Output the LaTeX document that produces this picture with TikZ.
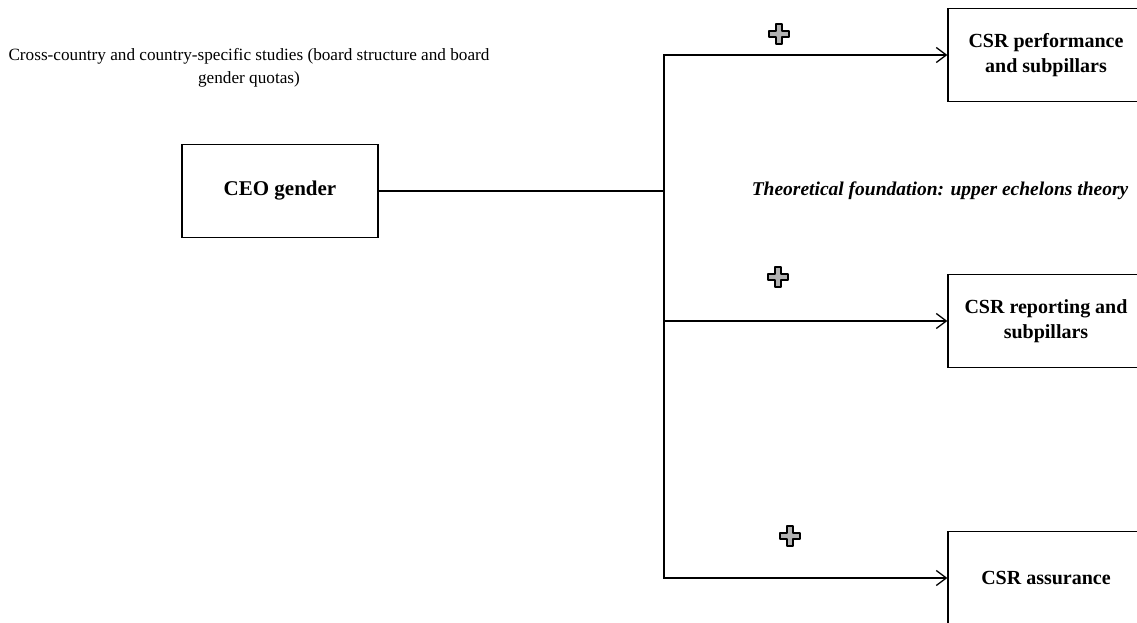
\documentclass[tikz,border=0pt]{standalone}
\usepackage{fontspec}
\setmainfont{Liberation Serif}
\usetikzlibrary{arrows.meta}

\tikzset{
  outcome/.style={draw, line width=1.3pt, minimum width=196pt, minimum height=93pt,
    align=center, font=\fontsize{20}{25}\selectfont\bfseries},
  link/.style={line width=1.4pt},
  plussign/.pic={
    \draw[fill=gray!60, line width=1.3pt, line join=round]
      (-3,-10) -- (3,-10) -- (3,-3) -- (10,-3) -- (10,3) -- (3,3)
      -- (3,10) -- (-3,10) -- (-3,3) -- (-10,3) -- (-10,-3) -- (-3,-3) -- cycle;
  }
}

\begin{document}
\begin{tikzpicture}[x=1pt, y=-1pt, >={Straight Barb[length=10pt, width=15pt, line width=1.3pt]}]
    % Page frame, same size as the source
    \useasboundingbox (0,0) rectangle (1137,622);

    % Heading text at the top left
    \node[align=center, font=\fontsize{17.2}{23}\selectfont] (scope) at (249,68)
        {Cross-country and country-specific studies (board structure and board\\gender quotas)};

    % Explanatory variable
    \node[outcome, font=\fontsize{21}{25}\selectfont\bfseries] (ceo) at (280,191) {CEO gender};

    % Three outcome boxes on the right (cut by the page edge)
    \node[outcome] (perf) at (1046,55) {CSR performance\\and subpillars};
    \node[outcome] (report) at (1046,321) {CSR reporting and\\subpillars};
    \node[outcome] (assur) at (1046,578) {CSR assurance};

    % Theory label between the first two boxes
    \node[font=\fontsize{19.5}{22}\selectfont\bfseries\itshape] (theory) at (940,191)
        {Theoretical foundation: upper echelons theory};

    % Branching connector
    \coordinate (junc) at (664,191);
    \draw[link] (ceo.east) -- (junc);
    \draw[link, ->] (junc) |- (perf.west);
    \draw[link, ->] (junc) |- (report.west);
    \draw[link, ->] (junc) |- (assur.west);

    % Positive signs above the arrows
    \pic at (779,34) {plussign};
    \pic at (778,277) {plussign};
    \pic at (790,536) {plussign};
\end{tikzpicture}
\end{document}
